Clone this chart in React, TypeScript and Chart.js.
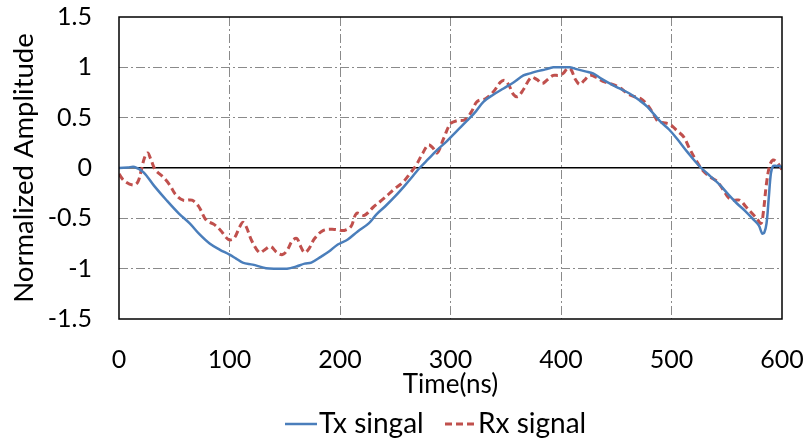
import React, { useEffect, useRef } from "react";
import { Chart, registerables } from "chart.js";

Chart.register(...registerables);

const txTime = [0, 8, 14, 22, 32, 43, 54, 64, 73, 82, 91, 100, 106, 112, 121, 133, 143, 152, 160, 168, 174, 183, 190, 198, 207, 216, 226, 233, 241, 250, 259, 266, 272, 280, 288, 297, 305, 315, 322, 330, 339, 348, 357, 366, 372, 378, 386, 393, 400, 408, 415, 422, 429, 436, 444, 453, 462, 470, 478, 490, 498, 505, 515, 526, 535, 544, 552, 559, 567, 574, 579, 582, 584, 586, 588, 590, 592, 595, 598, 600];
const txValue = [0, 0.005, 0.01, -0.04, -0.18, -0.32, -0.45, -0.55, -0.66, -0.75, -0.81, -0.86, -0.9, -0.94, -0.96, -0.995, -1.0, -1.0, -0.98, -0.95, -0.94, -0.88, -0.83, -0.76, -0.71, -0.63, -0.55, -0.46, -0.38, -0.28, -0.17, -0.08, 0.0, 0.09, 0.18, 0.27, 0.36, 0.47, 0.55, 0.66, 0.73, 0.79, 0.85, 0.92, 0.94, 0.96, 0.98, 1.0, 1.0, 1.0, 0.98, 0.96, 0.94, 0.89, 0.84, 0.79, 0.74, 0.68, 0.61, 0.46, 0.38, 0.29, 0.15, 0.01, -0.08, -0.17, -0.27, -0.35, -0.43, -0.51, -0.57, -0.65, -0.64, -0.55, -0.3, -0.05, 0.02, 0.02, 0.02, 0.0];

const rxTime = [0, 5, 13, 17, 20, 23, 26, 29, 33, 40, 46, 51, 58, 66, 72, 79, 86, 92, 99, 104, 109, 112, 115, 120, 127, 131, 137, 143, 148, 152, 157, 161, 164, 168, 172, 177, 185, 195, 204, 210, 215, 222, 230, 240, 249, 257, 263, 269, 275, 280, 284, 288, 294, 300, 306, 313, 319, 324, 332, 339, 345, 349, 353, 357, 361, 366, 373, 378, 383, 388, 393, 398, 402, 406, 409, 413, 417, 421, 426, 432, 438, 444, 453, 460, 466, 472, 478, 483, 488, 493, 499, 505, 511, 516, 522, 528, 535, 541, 547, 552, 557, 562, 567, 572, 577, 581, 583, 586, 589, 592, 595, 598, 600];
const rxValue = [-0.06, -0.13, -0.17, -0.14, -0.03, 0.1, 0.15, 0.08, -0.02, -0.09, -0.17, -0.26, -0.32, -0.32, -0.38, -0.52, -0.56, -0.62, -0.71, -0.7, -0.59, -0.54, -0.58, -0.72, -0.84, -0.82, -0.78, -0.84, -0.86, -0.82, -0.72, -0.7, -0.77, -0.84, -0.8, -0.7, -0.62, -0.61, -0.62, -0.58, -0.45, -0.47, -0.39, -0.3, -0.21, -0.14, -0.06, 0.03, 0.15, 0.23, 0.2, 0.15, 0.3, 0.44, 0.47, 0.48, 0.56, 0.66, 0.69, 0.76, 0.85, 0.87, 0.82, 0.73, 0.71, 0.78, 0.9, 0.88, 0.84, 0.88, 0.92, 0.92, 0.94, 0.99, 0.98, 0.88, 0.83, 0.87, 0.92, 0.9, 0.86, 0.84, 0.8, 0.74, 0.71, 0.69, 0.63, 0.55, 0.46, 0.45, 0.43, 0.37, 0.31, 0.2, 0.08, -0.02, -0.09, -0.13, -0.22, -0.3, -0.32, -0.32, -0.38, -0.44, -0.5, -0.55, -0.45, -0.15, 0.03, 0.08, 0.06, 0.02, -0.02];

const seriesNames = ["Tx singal", "Rx signal"];
const xTitle = "Time(ns)";
const yTitle = "Normalized Amplitude";

const FONT = "Lato, 'Open Sans', sans-serif";
const BLUE = "#4A7EBB";
const RED = "#C0504D";

const boxAndLegend = {
  id: "boxAndLegend",
  afterDraw(chart: any) {
    const { ctx, chartArea } = chart;
    ctx.save();
    ctx.strokeStyle = "#000";
    ctx.lineWidth = 1.5;
    ctx.setLineDash([]);
    ctx.strokeRect(chartArea.left, chartArea.top, chartArea.right - chartArea.left, chartArea.bottom - chartArea.top);
    // legend
    const y = 424;
    ctx.font = `28px ${FONT}`;
    ctx.textBaseline = "middle";
    ctx.textAlign = "left";
    ctx.lineWidth = 2.5;
    ctx.strokeStyle = BLUE;
    ctx.beginPath();
    ctx.moveTo(285, y);
    ctx.lineTo(317, y);
    ctx.stroke();
    ctx.fillStyle = "#000";
    ctx.fillText(seriesNames[0], 319, y);
    ctx.strokeStyle = RED;
    ctx.lineWidth = 3;
    ctx.setLineDash([7, 4]);
    ctx.beginPath();
    ctx.moveTo(445, y);
    ctx.lineTo(474, y);
    ctx.stroke();
    ctx.setLineDash([]);
    ctx.fillText(seriesNames[1], 478, y);
    ctx.restore();
  },
};

export default function App() {
  const ref = useRef<HTMLCanvasElement>(null);
  useEffect(() => {
    if (!ref.current) return;
    const chart = new Chart(ref.current, {
      type: "line",
      data: {
        datasets: [
          {
            label: seriesNames[0],
            data: txTime.map((t, i) => ({ x: t, y: txValue[i] })),
            borderColor: BLUE,
            borderWidth: 2.5,
            pointRadius: 0,
            tension: 0.35,
            fill: false,
          },
          {
            label: seriesNames[1],
            data: rxTime.map((t, i) => ({ x: t, y: rxValue[i] })),
            borderColor: RED,
            borderWidth: 3,
            borderDash: [7, 4],
            pointRadius: 0,
            tension: 0.35,
            fill: false,
          },
        ],
      },
      options: {
        animation: false,
        responsive: false,
        layout: { padding: { left: 0, right: 28, top: 17, bottom: 45 } },
        plugins: { legend: { display: false }, tooltip: { enabled: false } },
        scales: {
          x: {
            type: "linear",
            min: 0,
            max: 600,
            ticks: { stepSize: 100, color: "#000", font: { size: 25, family: FONT }, padding: 26, maxRotation: 0 },
            grid: {
              drawTicks: false,
              color: (c: any) => (c.tick && (c.tick.value === 0 || c.tick.value === 600) ? "rgba(0,0,0,0)" : "#8A8A8A"),
              lineWidth: 1,
            },
            border: { display: false, dash: [9, 3, 2, 3] },
            title: { display: true, text: xTitle, color: "#000", font: { size: 26, family: FONT }, padding: { top: 0, bottom: 0 } },
            afterFit: (s: any) => {
              s.height = 81;
              s.paddingLeft = 0;
              s.paddingRight = 0;
            },
          },
          y: {
            type: "linear",
            min: -1.5,
            max: 1.5,
            ticks: {
              stepSize: 0.5,
              color: "#000",
              font: { size: 25, family: FONT },
              padding: 27,
              callback: (v: any) => String(Number(v)),
            },
            grid: {
              drawTicks: false,
              color: (c: any) => {
                const v = c.tick && c.tick.value;
                if (v === 1.5 || v === -1.5) return "rgba(0,0,0,0)";
                if (v === 0) return "#000";
                return "#8A8A8A";
              },
              lineWidth: (c: any) => (c.tick && c.tick.value === 0 ? 1.5 : 1),
            },
            border: { display: false, dash: (c: any) => (c.tick && c.tick.value === 0 ? [] : [9, 3, 2, 3]) },
            title: { display: true, text: yTitle, color: "#000", font: { size: 27.5, family: FONT }, padding: { top: 8, bottom: 0 } },
            afterFit: (s: any) => {
              s.width = 119;
              s.paddingTop = 0;
              s.paddingBottom = 0;
            },
          },
        },
      },
      plugins: [boxAndLegend],
    });
    return () => chart.destroy();
  }, []);
  return (
    <div style={{ position: "absolute", left: 0, top: 0, width: 810, height: 445 }}>
      <canvas ref={ref} width={810} height={445} />
    </div>
  );
}
